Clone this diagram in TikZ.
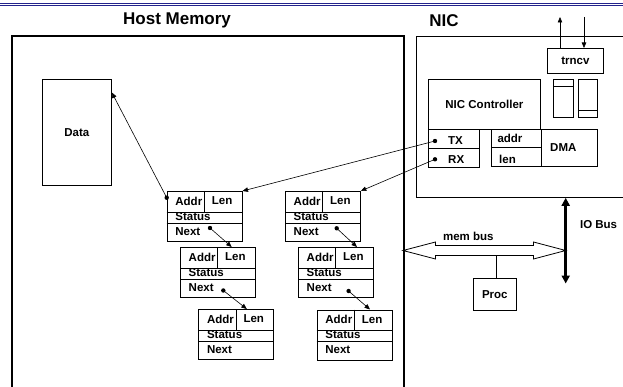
\documentclass[tikz,border=0pt]{standalone}
\usepackage{fontspec}
\setmainfont{Liberation Sans}
\usetikzlibrary{arrows.meta, positioning, calc}

\definecolor{rulenavy}{RGB}{35,35,140}

\begin{document}
\begin{tikzpicture}[
    x=1pt, y=-1pt,
    font=\bfseries\fontsize{11.5}{13}\selectfont,
    box/.style={rectangle, draw, line width=0.8pt, inner sep=0pt, anchor=north west},
    desc/.style={box, minimum width=75pt, minimum height=50pt},
    lbl/.style={inner sep=0pt, anchor=west},
    title/.style={inner sep=0pt, font=\bfseries\fontsize{17}{19}\selectfont},
    ptr/.style={-{Triangle[length=5.5pt,width=4.5pt]}, line width=0.6pt},
    bus/.style={line width=2.5pt, {Triangle[length=8pt,width=8pt]}-{Triangle[length=8pt,width=8pt]}}
  ]
  \useasboundingbox (0,0) rectangle (623,387);

  % rule at the top
  \draw[rulenavy, line width=1.4pt] (0,3.3) -- (623,3.3);
  \draw[rulenavy, line width=0.7pt] (0,5.4) -- (623,5.4);

  % host memory
  \node[title] (memtitle) at (177,20.5) {Host Memory};
  \node[box, line width=2pt, minimum width=392pt, minimum height=400pt] (mem) at (11,35) {};
  \node[box, minimum width=69pt, minimum height=106.5pt] (data) at (42,79) {Data};

  % descriptors
  \foreach \n/\px/\py in {a1/166.7/191, a2/180/247, a3/198.3/309, b1/285/191, b2/298/247, b3/316.7/309.5} {
    \node[desc] (\n) at (\px,\py) {};
    \draw ($(\n.north west)+(0,21)$) -- ($(\n.north east)+(0,21)$)
          ($(\n.north west)+(0,32)$) -- ($(\n.north east)+(0,32)$)
          ($(\n.north west)+(37.5,0)$) -- ($(\n.north west)+(37.5,21)$);
    \node[lbl] (\n-addr) at ($(\n.north west)+(8.5,10)$) {Addr};
    \node[lbl] (\n-len) at ($(\n.north west)+(45,10)$) {Len};
    \node[lbl] (\n-status) at ($(\n.north west)+(8.5,25.5)$) {Status};
    \node[lbl] (\n-next) at ($(\n.north west)+(8.5,40.5)$) {Next};
  }

  % next pointers
  \foreach \s/\t/\dx/\dy/\tx in {a1/a2/43.3/37/51.7, a2/a3/43.3/43.5/48.5, b1/b2/51.7/37.3/59, b2/b3/50.6/44/53.3} {
    \coordinate (\s-nx) at ($(\s.north west)+(\dx,\dy)$);
    \coordinate (\t-in) at ($(\t.north west)+(\tx,0)$);
    \fill (\s-nx) circle (2.2);
    \draw[ptr] (\s-nx) -- (\t-in);
  }

  % buffer pointer
  \coordinate (a1-ptr) at ($(a1.north west)+(0,6.7)$);
  \coordinate (data-in) at ($(data.north east)+(0,13.5)$);
  \fill (a1-ptr) circle (2.2);
  \draw[ptr] (a1-ptr) -- (data-in);

  % NIC
  \node[title] (nictitle) at (444,20.5) {NIC};
  \node[box, minimum width=230pt, minimum height=161pt] (nic) at (416,36) {};
  \node[box, minimum width=56pt, minimum height=24.7pt] (trncv) at (547,48) {trncv};
  \coordinate (antout) at (560,17);
  \coordinate (antin) at (584,17);
  \draw[ptr] (trncv.north -| antout) -- (antout);
  \draw[ptr] (antin) -- (antin |- trncv.north);

  \node[box, minimum width=19.5pt, minimum height=38pt] (fifo1) at (553,79) {};
  \node[box, minimum width=19pt, minimum height=38pt] (fifo2) at (578,79) {};
  \draw ($(fifo1.north west)+(0,7)$) -- ($(fifo1.north east)+(0,7)$);
  \draw ($(fifo2.north west)+(0,31.7)$) -- ($(fifo2.north east)+(0,31.7)$);

  \node[box, minimum width=112pt, minimum height=50pt] (ctl) at (428,79) {NIC Controller};
  \node[box, minimum width=51pt, minimum height=19pt] (txbox) at (428,129) {};
  \node[box, minimum width=51pt, minimum height=19pt] (rxbox) at (428,148) {};
  \node[lbl] (txlbl) at (448,141) {TX};
  \node[lbl] (rxlbl) at (448,159.3) {RX};
  \coordinate (tx) at (435,141);
  \coordinate (rx) at (435,159.3);
  \fill (tx) circle (2.2);
  \fill (rx) circle (2.2);
  \node[box, minimum width=49.5pt, minimum height=18.5pt] (addrbox) at (491,129) {};
  \node[box, minimum width=49.5pt, minimum height=19pt] (lenbox) at (491,147.5) {};
  \node[lbl] (addrlbl) at (497.3,138.3) {addr};
  \node[lbl] (lenlbl) at (499,159.3) {len};
  \node[box, minimum width=56.5pt, minimum height=37.5pt] (dma) at (540.5,129) {};
  \node[lbl] (dmalbl) at (550,147.3) {DMA};

  \draw[ptr] (tx) -- (a1.north east);
  \draw[ptr] (rx) -- (b1.north east);

  % buses
  \draw[line width=0.8pt, fill=white] (403,250.5) -- (435.5,242) -- (435.5,245.5) -- (533.5,245.5)
    -- (533.5,242) -- (565.7,250.5) -- (533.5,259) -- (533.5,255.5) -- (435.5,255.5)
    -- (435.5,259) -- cycle;
  \node (membus) at (468.3,236.7) {mem bus};
  \node[box, minimum width=43.5pt, minimum height=32pt] (proc) at (472.7,278) {Proc};
  \coordinate (procbus) at (496.7,255.5);
  \draw[line width=0.8pt] (proc.north -| procbus) -- (procbus);

  \coordinate (iobot) at (565.7,283.5);
  \draw[bus] (nic.south -| iobot) -- (iobot);
  \node (iobus) at (598.6,224.3) {IO Bus};
\end{tikzpicture}
\end{document}
